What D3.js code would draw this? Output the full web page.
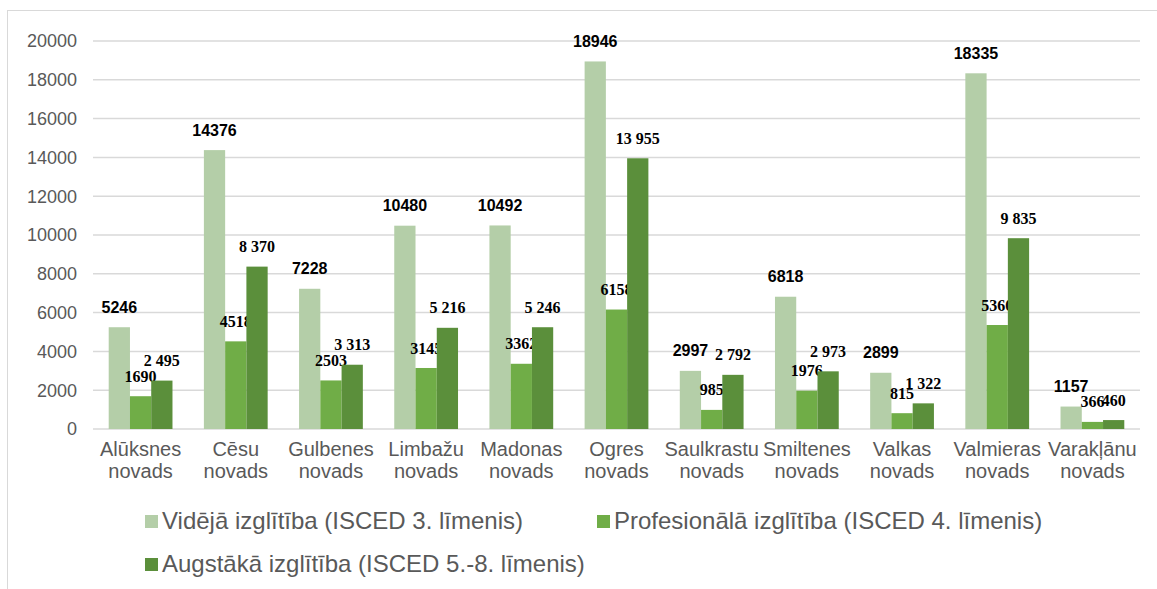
<!DOCTYPE html>
<html><head><meta charset="utf-8">
<script src="https://cdn.jsdelivr.net/npm/d3@7"></script>
<style>body{margin:0;background:#fff}svg{display:block}</style>
</head><body><svg id="c" width="1157" height="589"></svg>
<script>
const categories = [["Alūksnes","novads"],["Cēsu","novads"],["Gulbenes","novads"],["Limbažu","novads"],["Madonas","novads"],["Ogres","novads"],["Saulkrastu","novads"],["Smiltenes","novads"],["Valkas","novads"],["Valmieras","novads"],["Varakļānu","novads"]];
const seriesNames = ["Vidējā izglītība (ISCED 3. līmenis)","Profesionālā izglītība (ISCED 4. līmenis)","Augstākā izglītība (ISCED 5.-8. līmenis)"];
const videja = [5246,14376,7228,10480,10492,18946,2997,6818,2899,18335,1157];
const profesionala = [1690,4518,2503,3145,3362,6158,985,1976,815,5360,366];
const augstaka = [2495,8370,3313,5216,5246,13955,2792,2973,1322,9835,460];
const yTicks = [0,2000,4000,6000,8000,10000,12000,14000,16000,18000,20000];
const colors = ["#b4cea8","#70ad47","#5b8f3b"];

(function(){
const svg = d3.select("#c");
const series = [videja, profesionala, augstaka];
const pLeft = 93, pRight = 1140, pTop = 41, pBottom = 429;

svg.append("rect").attr("x",7.5).attr("y",10.5).attr("width",1200).attr("height",700)
  .attr("fill","none").attr("stroke","#d9d9d9").attr("stroke-width",1);

const x0 = d3.scaleBand().domain(d3.range(categories.length)).range([pLeft,pRight]).paddingInner(0.33).paddingOuter(0.165);
const x1 = d3.scaleBand().domain([0,1,2]).range([0,x0.bandwidth()]);
const y = d3.scaleLinear().domain([0,20000]).range([pBottom,pTop]);

svg.append("g").selectAll("line").data(yTicks).join("line")
  .attr("x1",pLeft).attr("x2",pRight).attr("y1",d=>y(d)).attr("y2",d=>y(d))
  .attr("stroke","#d9d9d9").attr("stroke-width",1.5);

svg.append("g").selectAll("text").data(yTicks).join("text")
  .attr("x",77).attr("y",d=>y(d)).attr("dy","0.35em").attr("text-anchor","end")
  .attr("font-family","Liberation Sans, Arial, sans-serif").attr("font-size",18).attr("fill","#595959")
  .text(d=>d);

const fmtSpace = v => String(v).replace(/\B(?=(\d{3})+(?!\d))/g," ");
series.forEach((vals,s)=>{
  const g = svg.append("g");
  g.selectAll("rect").data(vals).join("rect")
    .attr("x",(d,i)=>x0(i)+x1(s)).attr("width",x1.bandwidth())
    .attr("y",d=>y(d)).attr("height",d=>y(0)-y(d)).attr("fill",colors[s]);
  g.selectAll("text").data(vals).join("text")
    .attr("x",(d,i)=>x0(i)+x1(s)+x1.bandwidth()/2)
    .attr("y",d=>y(d)-20)
    .attr("dy","0.35em")
    .attr("text-anchor","middle")
    .attr("font-weight","bold")
    .attr("font-family", s===0 ? "Liberation Sans, Arial, sans-serif" : "Liberation Serif, Times New Roman, serif")
    .attr("font-size", s===0 ? 16 : 16)
    .attr("fill","#000")
    .text(d => s===2 ? fmtSpace(d) : String(d));
});

const cat = svg.append("g").selectAll("text").data(categories).join("text")
  .attr("text-anchor","middle")
  .attr("font-family","Liberation Sans, Arial, sans-serif").attr("font-size",20).attr("fill","#595959");
cat.each(function(d,i){
  const t = d3.select(this);
  const cx = x0(i)+x0.bandwidth()/2;
  d.forEach((line,j)=>t.append("tspan").attr("x",cx).attr("y",456+j*22).text(line));
});

const legendPos = [[145,521],[597,521],[145,564]];
const lg = svg.append("g").selectAll("g").data(seriesNames).join("g")
  .attr("transform",(d,i)=>`translate(${legendPos[i][0]},${legendPos[i][1]})`);
lg.append("rect").attr("x",0).attr("y",-6).attr("width",13).attr("height",13).attr("fill",(d,i)=>colors[i]);
lg.append("text").attr("x",17).attr("y",0).attr("dy","0.35em")
  .attr("font-family","Liberation Sans, Arial, sans-serif").attr("font-size",24).attr("fill","#595959")
  .text(d=>d);
})();
</script></body></html>
